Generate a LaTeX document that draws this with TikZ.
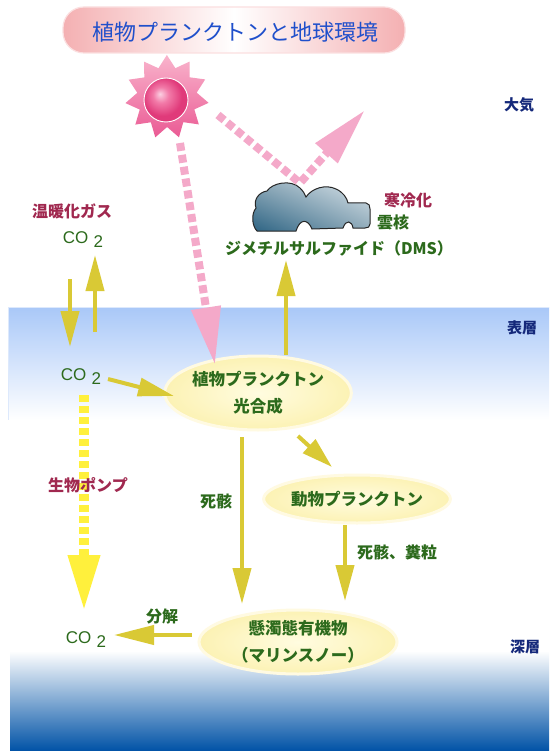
\documentclass[tikz,border=0pt]{standalone}
\usepackage{fontspec}
\setmainfont{Noto Sans CJK JP}
\newfontfamily\latinfont{Liberation Sans}
\usetikzlibrary{arrows.meta,shapes.geometric,shadings}

\definecolor{txtgreen}{HTML}{2C6A1C}
\definecolor{txtred}{HTML}{A0284F}
\definecolor{txtnavy}{HTML}{14287A}
\definecolor{flowc}{HTML}{D9C935}
\definecolor{pumpc}{HTML}{FFF03C}
\definecolor{raypink}{HTML}{F4A9C9}
\definecolor{titleblue}{HTML}{1F4FCB}
\definecolor{bannerpink}{HTML}{F4B0B2}
\definecolor{seatop}{HTML}{A9C8F8}
\definecolor{deepblue}{HTML}{0052A6}
\definecolor{ballhi}{HTML}{FBD0E2}
\definecolor{ballmid}{HTML}{F27AA8}
\definecolor{balldark}{HTML}{E03A7A}
\definecolor{spikelight}{HTML}{F9B4CC}
\definecolor{spikedark}{HTML}{EA5A94}
\definecolor{cloudlight}{HTML}{E2EAEF}
\definecolor{cloudmid}{HTML}{8FAAB9}
\definecolor{clouddark}{HTML}{2C6383}
\definecolor{blobin}{HTML}{FFFCE0}
\definecolor{blobout}{HTML}{FCF2B4}
\definecolor{blobrim}{HTML}{FFFAE2}

\pgfdeclareradialshading{sunball}{\pgfpoint{-7bp}{7bp}}{%
  color(0bp)=(ballhi); color(9bp)=(ballmid); color(22bp)=(balldark);
  color(25bp)=(balldark); color(50bp)=(balldark)}

\newcommand\cotwo{{\latinfont CO\hspace{0.3em}\raisebox{-0.45ex}{2}}}

\tikzset{
  lbl/.style={font=\bfseries\fontsize{16}{18}\selectfont, inner sep=0pt},
  greenlbl/.style={lbl, text=txtgreen},
  redlbl/.style={lbl, text=txtred},
  navylbl/.style={font=\bfseries\fontsize{15}{17}\selectfont, inner sep=0pt, text=txtnavy},
  gaslbl/.style={font=\fontsize{17}{19}\selectfont, inner sep=0pt, text=txtgreen},
  blob/.style={ellipse, inner sep=0pt, draw=blobrim, line width=3pt,
    inner color=blobin, outer color=blobout, text=txtgreen, align=center,
    font=\bfseries\fontsize{16.5}{27}\selectfont},
  flow/.style={draw=flowc, line width=4pt, -{Triangle[length=36pt,width=18pt]}},
  pump/.style={draw=pumpc, line width=10pt, dash pattern=on 7pt off 4pt,
    -{Triangle[length=56pt,width=30pt]}},
  ray/.style={draw=raypink, line width=8pt, dash pattern=on 8pt off 4pt,
    -{Triangle[length=58pt,width=28pt]}},
}

\begin{document}
\begin{tikzpicture}[x=1pt,y=-1pt]
\useasboundingbox (0,0) rectangle (549,751);
\fill[white] (0,0) rectangle (549,751);

% sea: bright surface layer fading to white, deep layer darkening to blue
\shade[top color=seatop, bottom color=white] (8,307) rectangle (549,420);
\shade[top color=white, bottom color=deepblue] (10,651) rectangle (549,751);
\draw[white!60!seatop, line width=1.5pt] (8,307.5) -- (549,307.5);
\draw[white!60!seatop, line width=1pt] (8.5,307) -- (8.5,420);

% title banner
\shade[left color=bannerpink, right color=bannerpink, middle color=white,
  rounded corners=21pt] (63,7) rectangle (405,53);
\draw[white!60!bannerpink, line width=1.2pt, rounded corners=21pt] (63,7) rectangle (405,53);
\node[text=titleblue, font=\fontsize{22}{24}\selectfont, inner sep=0pt] (title) at (235,32)
  {植物プランクトンと地球環境};

% sun
\coordinate (sunc) at (167,97);
\shade[shift={(167,97)}, top color=spikelight, bottom color=spikedark]
  plot[samples=22, domain=0:343.64] ({\x+8}:{36+6*cos(11*\x)}) -- cycle;
\shade[shading=sunball] (166,100) circle (22);
\draw[white, line width=0.9pt] (166,100) circle (22);

% cloud
\coordinate (cloudtop) at (300,183);
\def\cloudoutline{(257,231) .. controls (252,226) and (251,214) .. (256,208)
  .. controls (253,200) and (259,192) .. (267,191)
  .. controls (272,183) and (291,179) .. (300,188)
  .. controls (303,191) and (305,194) .. (306,197)
  .. controls (312,188) and (326,184) .. (336,189)
  .. controls (343,192) and (347,198) .. (348,203) -- (366,203)
  .. controls (369,203) and (370,206) .. (370,209) -- (370,224)
  .. controls (370,227) and (368,228) .. (365,228) -- (353,228)
  .. controls (352,221) and (346,219) .. (343,228) -- (312,229)
  .. controls (308,219) and (300,218) .. (296,231) -- cycle}
\shade[upper left=cloudmid, upper right=cloudlight, lower left=clouddark, lower right=cloudmid]
  \cloudoutline;
\draw[black!85, line width=1pt] \cloudoutline;

% plankton and organic matter
\node[blob, minimum width=166pt, minimum height=74pt] (phyto) at (258,393)
  {植物プランクトン\\光合成};
\node[blob, minimum width=164pt, minimum height=48pt] (zoo) at (357,499)
  {動物プランクトン};
\node[blob, minimum width=198pt, minimum height=64pt] (snow) at (298,642)
  {懸濁態有機物\\（マリンスノー）};

% sunlight: into the sea, and reflected by the cloud
\coordinate (rayA) at (180,143);
\coordinate (rayB) at (215,365);
\coordinate (rayC) at (218,115);
\coordinate (rayD) at (365,110);
\draw[ray] (rayA) -- (rayB);
\draw[ray] (rayC) -- (cloudtop) -- (rayD);

% exchanges of CO2 with the air
\coordinate (dnA) at (70,279);
\coordinate (dnB) at (70,347);
\coordinate (upA) at (95,332);
\coordinate (upB) at (95,255);
\draw[flow] (dnA) -- (dnB);
\draw[flow] (upA) -- (upB);

% biological pump
\coordinate (pumpA) at (84,395);
\coordinate (pumpB) at (84,611);
\draw[pump] (pumpA) -- (pumpB);

% flows between the boxes
\coordinate (inA) at (108,379);
\coordinate (inB) at (174,396);
\draw[flow] (inA) -- (inB);
\coordinate (dmsA) at (286,355);
\coordinate (dmsB) at (286,260);
\draw[flow] (dmsA) -- (dmsB);
\coordinate (deadA) at (242,437);
\coordinate (deadB) at (242,604);
\draw[flow] (deadA) -- (deadB);
\coordinate (eatA) at (298,436);
\coordinate (eatB) at (332,467);
\draw[flow, -{Triangle[length=31pt,width=18pt]}] (eatA) -- (eatB);
\coordinate (fecA) at (345,525);
\coordinate (fecB) at (345,601);
\draw[flow] (fecA) -- (fecB);
\coordinate (decA) at (192,635);
\coordinate (decB) at (114,635);
\draw[flow, -{Triangle[length=40pt,width=19pt]}] (decA) -- (decB);

% labels
\node[navylbl] (daiki) at (519,105) {大気};
\node[navylbl] (hyoso) at (522,328) {表層};
\node[navylbl] (shinso) at (525,647) {深層};
\node[redlbl] (warm) at (72,211) {温暖化ガス};
\node[gaslbl] (co2top) at (83,240) {\cotwo};
\node[gaslbl] (co2mid) at (81,377) {\cotwo};
\node[gaslbl] (co2bot) at (86,640) {\cotwo};
\node[redlbl] (pumplbl) at (88,485) {生物ポンプ};
\node[redlbl] (cold) at (408,200) {寒冷化};
\node[greenlbl] (nuc) at (393,222) {雲核};
\node[greenlbl] (dms) at (339,248) {ジメチルサルファイド（DMS）};
\node[greenlbl] (dead) at (216,502) {死骸};
\node[greenlbl] (dead2) at (397,552) {死骸、糞粒};
\node[greenlbl] (decomp) at (162,616) {分解};
\end{tikzpicture}
\end{document}
